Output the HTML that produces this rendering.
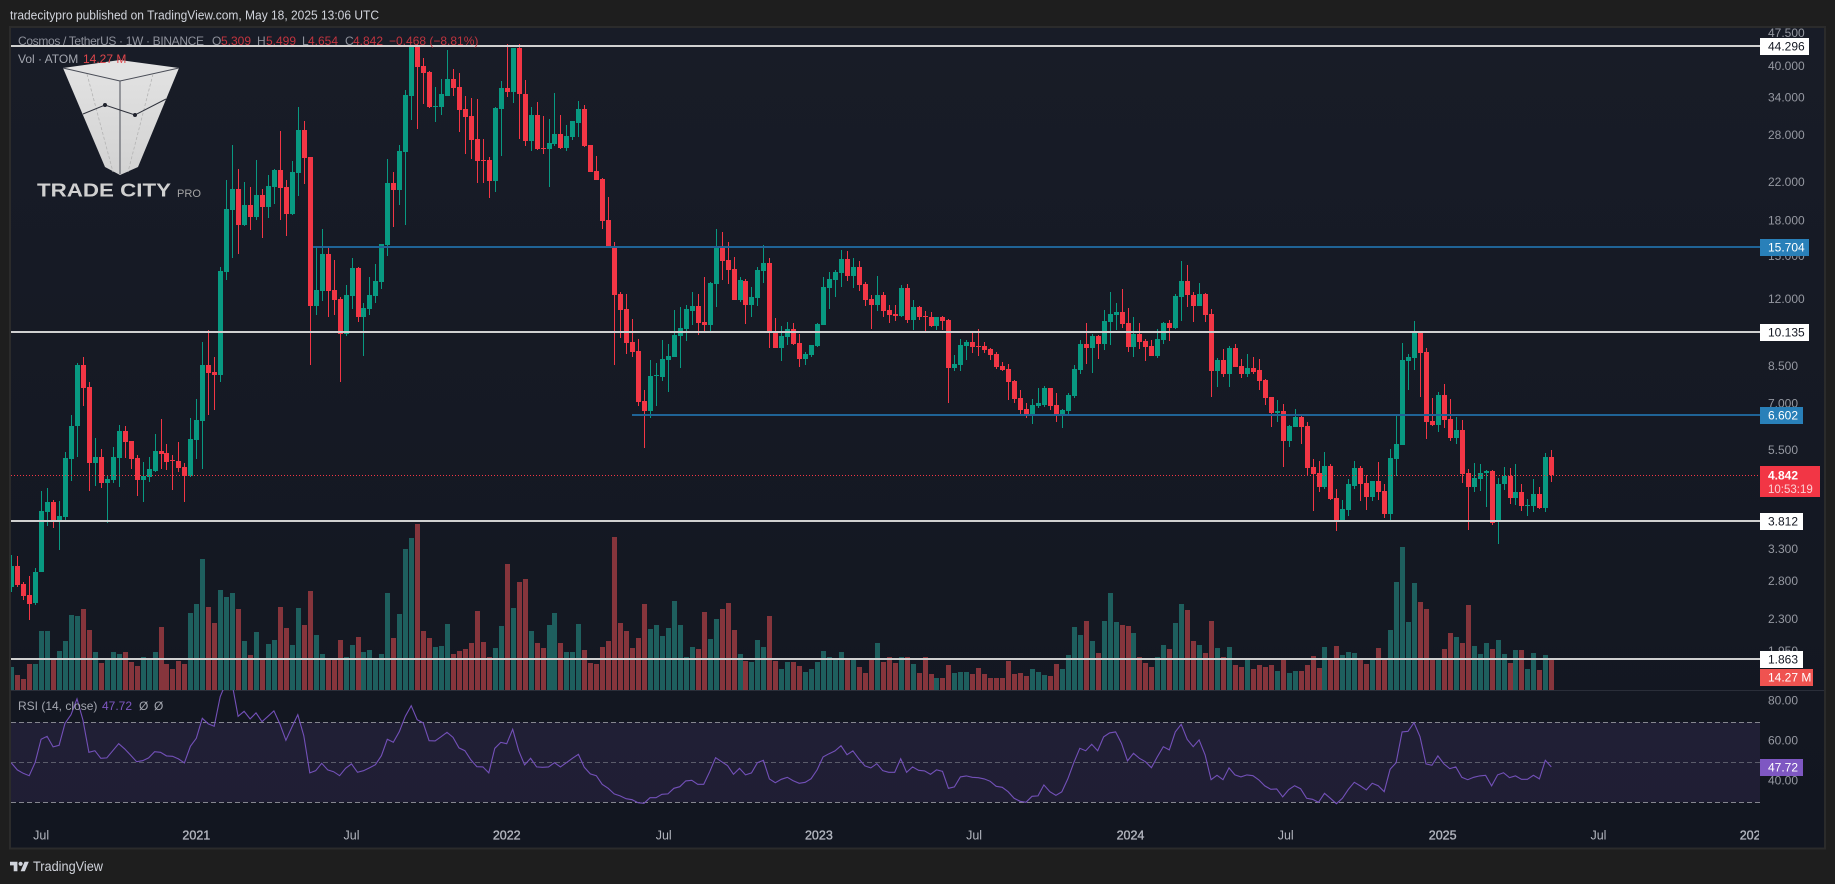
<!DOCTYPE html>
<html lang="en">
<head>
<meta charset="utf-8">
<title>Cosmos / TetherUS weekly chart</title>
<style>
html,body{margin:0;padding:0;background:#1e1e1e;width:1835px;height:884px;overflow:hidden}
svg{display:block;font-family:"Liberation Sans",sans-serif}
</style>
</head>
<body>
<svg id="chart" xmlns="http://www.w3.org/2000/svg" width="1835" height="884" viewBox="0 0 1835 884">
  <defs>
    <linearGradient id="paneBg" x1="0" y1="0" x2="0" y2="1"><stop offset="0" stop-color="#181c27"/><stop offset="1" stop-color="#121620"/></linearGradient>
    <linearGradient id="logoL" x1="0" y1="0" x2="0" y2="1"><stop offset="0" stop-color="#e2e2e2"/><stop offset="1" stop-color="#d2d2d2"/></linearGradient>
    <clipPath id="pricePane"><rect x="11" y="28" width="1749" height="662"/></clipPath>
    <clipPath id="rsiPane"><rect x="11" y="690" width="1749" height="157"/></clipPath>
    <clipPath id="timeClip"><rect x="11" y="820" width="1748" height="27"/></clipPath>
  </defs>

  <rect x="0" y="0" width="1835" height="884" fill="#1e1e1e"/>
  <text x="10" y="19.5" font-size="13" fill="#d1d4dc" textLength="369" lengthAdjust="spacingAndGlyphs">tradecitypro published on TradingView.com, May 18, 2025 13:06 UTC</text>
  <rect x="10" y="27" width="1815" height="821.5" fill="url(#paneBg)" stroke="#2b2b2b" stroke-width="2"/>
  <rect x="11" y="690" width="1813" height="1" fill="#2a2e39"/>

  <g id="volumeLayer" clip-path="url(#pricePane)" shape-rendering="crispEdges"></g>
  <g id="candleLayer" clip-path="url(#pricePane)" shape-rendering="crispEdges"></g>

  <g>
    <polygon points="63,68 120,60 179,68 120,81" fill="#e2e2e2"/>
    <polygon points="63,68 120,81 120,175 105,167 63,68" fill="url(#logoL)"/>
    <polygon points="179,68 120,81 120,175 138,167 179,68" fill="url(#logoL)"/>
    <path d="M63,68L120,81L179,68M120,81V174" fill="none" stroke="#4a4d57" stroke-width="1"/>
    <path d="M87,74L113,172M153,74L128,172" fill="none" stroke="#b4b4b4" stroke-width="0.8" stroke-dasharray="3 2"/>
    <path d="M83,114L105,105L135,115L166,99" fill="none" stroke="#2f323c" stroke-width="1"/>
    <circle cx="105" cy="105" r="2" fill="#20232d"/>
    <circle cx="135" cy="115" r="2" fill="#20232d"/>
    <text x="37" y="196.5" font-size="18.5" font-weight="bold" fill="#d0d0d0" textLength="134" lengthAdjust="spacingAndGlyphs">TRADE CITY</text>
    <text x="177" y="197" font-size="11" fill="#a4a4a4" textLength="24" lengthAdjust="spacingAndGlyphs">PRO</text>
  </g>

  <g id="levelLayer" shape-rendering="crispEdges"></g>
  <g id="rsiLayer"></g>
  <g id="timeAxis" clip-path="url(#timeClip)"></g>
  <g id="priceAxis"></g>
  <g id="axisLabels"></g>

  <g font-size="12">
    <text x="18" y="45" fill="#8f929c" textLength="186" lengthAdjust="spacing">Cosmos / TetherUS · 1W · BINANCE</text>
    <text x="212" y="45" fill="#8f929c">O</text>
    <text x="221" y="45" fill="#c2343f">5.309</text>
    <text x="257" y="45" fill="#8f929c">H</text>
    <text x="266" y="45" fill="#c2343f">5.499</text>
    <text x="302" y="45" fill="#8f929c">L</text>
    <text x="308" y="45" fill="#c2343f">4.654</text>
    <text x="345" y="45" fill="#8f929c">C</text>
    <text x="353" y="45" fill="#c2343f">4.842</text>
    <text x="389" y="45" fill="#c2343f">−0.468 (−8.81%)</text>
    <text x="18" y="63" fill="#a3a6af">Vol · ATOM</text>
    <text x="83" y="63" fill="#e0474c">14.27 M</text>
    <text x="18" y="710" fill="#a3a6af">RSI (14, close)</text>
    <text x="102" y="710" fill="#7e57c2">47.72</text>
    <text x="139" y="710" fill="#a3a6af">Ø</text>
    <text x="154" y="710" fill="#a3a6af">Ø</text>
  </g>

  <g>
    <path transform="translate(10,859.6) scale(0.53)" d="M14 22H7V11H0V4h14v18zM28 22h-8l7.5-18h8L28 22z" fill="#d1d4dc"/>
    <circle cx="20.6" cy="863.8" r="2.1" fill="#d1d4dc"/>
    <text x="33" y="871" font-size="13.5" fill="#d1d4dc" textLength="70" lengthAdjust="spacingAndGlyphs">TradingView</text>
  </g>
</svg>

<script>
const opens=[2.71,3.02,2.75,2.60,2.49,2.92,3.99,4.21,3.79,3.89,
5.25,6.23,8.52,7.61,5.14,5.30,4.64,4.71,5.27,6.06,
5.76,5.27,4.71,4.79,4.94,5.47,5.42,5.22,5.19,5.04,
4.81,5.79,6.39,8.52,8.22,8.10,13.79,18.99,21.17,17.57,
19.49,18.31,20.53,19.30,21.39,23.35,21.39,18.6,22.99,28.71,
24.97,11.57,12.5,15.13,12.56,11.99,10.0,12.2,14.07,10.93,
11.39,12.2,13.1,15.85,21.84,21.06,25.6,34.2,44.3,39.95,
38.74,32.33,32.33,34.22,37.35,35.85,32.0,30.86,27.4,24.59,
24.59,22.05,32.0,35.66,34.9,43.85,34.55,27.1,31.0,26.17,
26.0,26.7,28.1,26.17,27.7,29.77,32.0,26.57,23.23,22.3,
18.03,15.7,12.31,11.39,9.6,9.17,7.08,6.73,8.06,8.02,
8.75,8.88,9.91,10.27,11.27,11.57,10.65,10.49,12.96,15.7,
14.67,14.0,11.93,13.16,11.63,12.05,13.86,14.45,10.16,9.3,
9.85,10.27,9.55,8.8,8.98,9.41,10.49,12.7,13.23,13.72,
14.75,13.51,14.15,12.96,12.0,11.63,12.25,11.33,11.1,11.0,
12.7,10.76,11.51,11.0,10.93,10.44,10.93,10.76,8.4,8.53,
9.41,9.6,9.41,9.41,9.26,9.03,8.49,8.35,7.85,7.2,
6.8,6.62,6.91,6.94,7.57,6.94,6.56,6.73,7.27,8.31,
9.5,9.3,9.91,9.5,10.65,11.05,11.22,10.6,9.36,10.0,
9.65,9.41,8.94,9.7,10.6,10.33,12.1,13.16,12.25,11.57,
12.31,11.1,8.27,8.75,8.14,9.3,8.49,8.14,8.4,8.31,
7.89,7.23,6.66,6.73,5.76,6.2,6.52,6.23,5.04,4.89,
4.55,5.07,4.29,3.79,4.03,4.57,5.01,4.64,4.32,4.69,
4.45,3.95,5.25,5.64,8.7,8.84,10.1,9.12,6.39,6.26,
7.31,6.45,5.85,6.09,4.89,4.55,4.73,4.89,4.94,3.79,
4.6,4.81,4.29,4.43,4.12,4.12,4.38,4.07,5.309];

const highs=[3.20,3.18,2.78,2.87,2.99,4.45,4.52,4.25,4.23,5.44,
6.59,8.61,8.88,7.81,5.85,5.53,4.81,5.58,6.26,6.23,
5.76,5.36,5.17,5.30,5.97,6.45,5.67,5.36,5.73,5.14,
6.49,7.16,9.60,10.21,8.88,14.15,22.17,26.57,23.47,21.92,
21.39,24.59,21.17,22.75,23.47,28.56,22.17,24.46,32.33,30.0,
25.0,15.65,17.2,15.75,14.67,12.1,12.9,14.85,14.15,11.75,
13.44,14.37,15.93,24.72,23.11,26.57,35.3,44.3,44.75,41.6,
38.94,35.85,37.35,43.4,39.35,38.55,34.22,33.87,33.7,27.4,
25.0,32.33,37.0,44.75,43.85,44.75,37.17,32.33,33.2,30.86,
30.4,34.7,31.0,29.46,30.07,33.35,32.67,26.57,25.11,22.4,
20.3,16.1,12.44,12.31,10.82,9.75,7.49,8.75,8.61,9.7,
9.5,11.33,11.51,11.63,12.43,12.3,13.44,13.1,17.2,16.95,
16.1,14.93,13.44,13.3,12.76,14.15,15.85,14.85,10.87,10.44,
10.65,10.6,10.0,9.12,9.46,10.6,13.44,13.79,13.93,15.45,
15.37,14.85,14.6,13.1,12.25,13.51,12.43,11.63,11.63,12.9,
12.96,11.93,11.57,11.27,11.22,10.93,11.0,10.82,8.98,9.75,
9.7,10.1,10.27,9.6,9.3,9.12,8.66,8.57,7.89,7.49,
7.0,7.16,7.57,7.66,7.57,7.38,6.8,7.38,8.53,9.7,
10.6,10.0,9.96,11.33,12.43,11.75,12.63,11.45,10.93,10.6,
9.75,9.7,10.27,10.65,10.76,12.31,14.6,14.3,12.43,13.03,
12.37,11.39,8.84,9.26,9.41,9.5,8.8,9.03,8.88,8.8,
7.93,7.23,7.12,6.98,6.26,6.8,6.59,6.36,5.25,5.19,
5.44,5.12,4.5,4.25,4.73,5.19,5.07,4.83,4.69,5.17,
4.62,5.53,6.62,9.55,9.03,10.7,10.1,9.3,7.2,7.42,
7.72,7.16,6.52,6.42,4.99,5.14,5.1,4.96,4.96,4.76,
5.04,5.01,5.1,4.6,4.27,4.73,4.55,5.42,5.499];

const lows=[2.64,2.71,2.53,2.28,2.47,2.92,3.72,3.68,3.28,3.79,
4.69,5.31,6.91,4.45,4.57,4.52,3.77,4.64,4.55,5.27,
4.99,4.34,4.21,4.66,4.91,4.99,4.96,4.47,4.91,4.21,
4.79,5.25,4.99,6.59,6.76,7.81,13.23,14.85,15.13,17.49,
17.13,18.03,16.43,18.22,19.59,18.03,16.6,18.5,20.43,21.7,
8.53,11.05,11.87,10.93,11.05,7.81,9.9,11.39,10.65,8.94,
11.05,11.75,12.63,14.99,17.4,19.49,17.57,30.23,28.86,32.87,
32.17,29.92,31.0,34.22,34.22,28.41,25.4,24.72,21.84,21.84,
20.2,20.84,25.11,34.0,33.0,27.4,26.44,25.76,25.89,25.4,
21.39,26.44,26.0,25.76,27.26,27.7,26.3,23.11,22.17,17.2,
15.6,8.53,9.8,9.03,8.88,6.91,5.56,6.49,6.91,7.85,
7.42,8.88,8.4,9.65,10.5,9.96,10.05,10.16,11.51,13.23,
12.96,11.93,11.8,10.54,10.93,11.57,13.03,9.3,9.3,8.7,
9.46,9.46,8.44,8.53,8.88,9.36,10.49,11.39,12.1,12.76,
13.16,12.7,12.5,11.57,10.27,11.27,10.93,10.6,10.7,10.93,
10.6,10.21,10.76,10.16,10.38,10.21,10.21,7.0,8.27,8.27,
8.75,9.07,8.94,9.07,8.75,8.35,8.27,7.12,7.0,6.62,
6.49,6.29,6.84,6.87,6.76,6.36,6.15,6.62,7.2,8.14,
8.57,8.18,8.8,9.21,9.46,10.21,10.33,9.12,8.88,9.26,
8.7,8.94,8.84,9.5,9.65,10.27,10.7,11.51,10.65,11.57,
10.65,7.23,7.61,8.02,7.61,8.44,7.98,8.02,8.14,7.49,
6.94,6.19,6.36,5.04,5.59,6.2,5.67,4.81,4.01,4.43,
4.5,4.25,3.62,3.79,3.91,4.5,4.23,4.03,4.23,4.25,
3.87,3.83,4.81,5.64,7.49,8.31,7.23,5.82,6.23,6.03,
6.15,5.76,5.67,4.64,3.64,4.43,4.45,4.09,3.73,3.38,
4.47,4.16,4.14,4.01,3.91,3.99,4.05,3.99,4.654];

const closes=[3.02,2.74,2.59,2.48,2.93,4.01,4.21,3.79,3.91,5.27,
6.23,8.52,7.57,5.14,5.30,4.64,4.73,5.30,6.06,5.73,
5.25,4.71,4.81,4.99,5.47,5.39,5.17,5.19,5.01,4.81,
5.82,6.42,8.52,8.18,8.10,13.86,19.09,21.17,17.57,19.49,
18.31,20.53,19.30,21.50,23.35,21.28,18.6,23.11,28.71,24.84,
11.57,12.56,15.13,12.5,11.93,10.0,12.25,14.07,10.93,11.45,
12.25,13.16,15.93,21.84,21.06,25.76,34.4,44.3,39.74,38.55,
32.33,32.5,34.5,37.35,35.66,31.83,30.7,27.26,24.46,24.46,
22.05,32.17,35.66,34.9,43.85,34.55,27.1,31.0,26.0,26.0,
26.85,28.1,26.17,27.84,30.07,32.0,26.44,23.11,22.17,17.94,
15.6,12.25,11.33,9.55,9.12,7.05,6.73,8.06,8.1,8.79,
8.94,9.96,10.33,11.39,11.57,10.6,10.49,13.03,15.7,14.6,
13.93,11.93,13.23,11.63,12.1,13.93,14.45,10.1,9.3,9.91,
10.27,9.5,8.8,9.03,9.46,10.54,12.76,13.3,13.79,14.75,
13.51,14.15,12.9,11.93,11.63,12.25,11.27,11.05,11.0,12.7,
10.76,11.51,10.93,10.93,10.44,10.93,10.7,8.4,8.57,9.46,
9.6,9.36,9.36,9.21,8.98,8.44,8.31,7.81,7.16,6.76,
6.62,6.94,7.0,7.57,6.91,6.56,6.76,7.31,8.35,9.5,
9.3,9.91,9.5,10.7,11.1,11.22,10.54,9.36,10.0,9.6,
9.36,8.94,9.75,10.6,10.33,12.19,13.16,12.25,11.57,12.31,
11.05,8.27,8.75,8.14,9.3,8.44,8.14,8.4,8.22,7.85,
7.2,6.66,6.73,5.76,6.23,6.52,6.2,5.01,4.86,4.55,
5.07,4.27,3.79,4.05,4.6,5.01,4.62,4.32,4.69,4.43,
3.95,5.27,5.67,8.75,8.88,10.1,9.07,6.36,6.26,7.31,
6.42,5.85,6.09,4.86,4.55,4.76,4.89,4.94,3.77,4.62,
4.81,4.29,4.43,4.12,4.14,4.38,4.07,5.3,4.842];

const volumes=[10.9,7.1,5.2,12.4,12.4,28.1,28.1,14.3,18.6,23.3,
35.7,35.2,38.5,28.5,18.1,12.8,14.3,18.1,17.1,18.1,
13.3,11.4,15.7,14.3,18.1,30.0,12.4,10.0,13.8,12.4,
36.6,40.9,62.3,39.5,31.9,47.6,44.2,46.2,38.5,23.3,
16.7,27.6,14.3,21.9,23.8,39.5,29.5,21.4,39.0,30.9,
47.1,26.2,17.1,15.2,14.3,23.8,15.7,21.4,25.2,18.1,
19.0,14.3,17.1,46.2,24.7,36.2,67.1,72.3,79.0,28.1,
24.7,20.5,20.9,31.4,17.1,18.6,19.5,22.4,37.6,22.8,
15.7,20.0,30.5,60.0,39.0,51.4,52.8,28.1,22.4,20.0,
30.9,36.6,22.4,18.1,18.1,31.4,19.0,12.8,12.4,20.5,
23.3,73,31.9,28.1,20.0,24.7,40.9,29.0,30.9,25.7,
29.5,42.3,30.9,15.7,20.5,19.5,37.1,24.3,33.8,38.5,
41.4,28.5,17.1,13.8,13.3,23.8,20.5,35.2,13.8,10.0,
13.3,13.3,11.4,8.6,10.0,13.3,18.6,15.7,14.3,18.1,
14.3,14.3,10.9,8.1,15.2,22.4,13.3,15.7,12.8,15.7,
15.7,12.4,8.1,15.7,7.6,5.7,5.7,11.9,8.1,8.6,
8.6,7.6,10.5,7.6,5.7,5.7,5.7,13.8,7.6,8.1,
6.7,10.0,8.6,7.1,6.7,12.4,10.0,16.7,30.0,26.2,
32.8,23.3,17.6,32.8,46.2,32.4,30.9,30.5,27.1,15.7,
12.8,10.9,15.7,21.4,19.5,31.9,40.9,38.1,23.3,21.4,
17.6,32.8,20.0,15.7,20.5,11.9,10.9,14.3,10.0,11.9,
10.9,11.9,9.0,14.3,8.1,9.0,9.0,11.9,16.2,10.5,
20.5,14.3,20.9,16.7,18.1,17.6,15.2,12.4,14.3,20.0,
14.3,28.5,51.4,68.0,32.4,50.9,41.9,38.5,14.3,15.2,
19.5,27.1,25.2,22.4,40.4,20.9,17.1,22.4,19.5,23.8,
17.1,12.8,19.0,19.0,10.0,17.6,9.5,16.7,14.27];

const rsiValues=[49.7,46.2,44.5,43.3,50,61.5,63,57.7,58.5,69.5,
73.8,81.7,71.2,55,55.8,52,52.2,55.8,59.3,56.7,
53.5,50.3,50.8,52.2,55.3,55,53.2,53,51.7,49.7,
58,62,72,69.2,68,82.8,90,89,73,75.5,
71.7,74.7,70.3,73,75.7,69.2,61,67.5,73.8,63.3,
44.7,45.8,49.5,46.2,45.3,43.3,47,49.2,45,45.8,
47.2,48.8,53.3,61.5,60,65.3,73,78.3,71.3,69.7,
60.8,60.7,62.8,65,62.5,57.2,55.8,51.2,47.8,47.7,
44.7,57,60,59.3,66.5,55.8,48.7,52,47.7,47.5,
47.7,49.8,47.7,49.8,52,54,47.5,44.2,43.3,39,
37,34.2,33.2,31.8,31.3,29.8,29.5,32.3,32.3,34,
34.2,37,37.8,40.7,41,39,39,45.3,52.3,50.3,
48.3,44,47,43.7,44.7,49.8,51,41.7,39.8,41.5,
42.5,40.8,39.5,40,41.8,46.2,52.7,54.3,55.7,58.3,
53.8,55.7,51.7,48.2,47.2,49.3,45.8,45,45,51.8,
45,47.7,46,45.7,44,46.2,45.5,37,37.7,42.7,
43.2,42.5,42.3,41.7,40.5,38,37.5,35.3,32,30.5,
30,33,33.2,38.7,35.3,33.5,35.2,41.7,49.8,57,
55.8,59,55.8,62.7,64.7,65.2,59.5,50.7,54.5,52,
50.3,47.3,52.7,57.8,56.2,65.2,69,61.5,57.8,61.2,
53.7,41.3,43.5,41.3,47.2,43.7,42.7,43.7,43.3,41.2,
38.2,36.5,36.7,32.7,36.3,38.3,36.8,32,31.5,30,
34.5,32,29.3,32,36.5,40,38.2,36.2,39.5,38.3,
35.3,46.5,49.8,65.2,65.5,69.8,62.8,49.2,48.5,53.2,
49.2,46.8,47.7,42.5,41.3,42.5,43.2,43.5,38.2,43.7,
44.8,42.3,43.2,41.5,41.5,43.5,41.7,51,47.72];

const priceTickLabels=["47.500","40.000","34.000","28.000","22.000","18.000","15.000","12.000","10.000","8.500","7.000","5.500","4.500","3.800","3.300","2.800","2.300","1.950"];
const rsiTickLabels=["80.00","60.00","40.00"];
const rsiBandLevels=[70,50,30];
const timeTickLabels=["Jul","2021","Jul","2022","Jul","2023","Jul","2024","Jul","2025","Jul","2026"];
const timeTickBars=[5,31,57,83,109.3,135.3,161.3,187.5,213.5,239.8,265.9,291.9];
const levelPrices=[44.296,15.704,10.135,6.602,3.812,1.863];
const levelStartBars=[-2,50.5,-2,104,-2,-2];
const levelKinds=["white","blue","white","blue","white","white"];
const lastPrice=4.842;
const lastVolumeText="14.27 M";
const countdownText="10:53:19";
const lastRsi=47.72;

const NS='http://www.w3.org/2000/svg';
const X0=11.3,BAR=5.969,PRICE_REF=44.296,PRICE_Y=46,PRICE_K=193.6;
const VOL_BASE=690,VOL_PER_PX=0.476,RSI_50=762.3,RSI_PX=2;
function xBar(i){return X0+BAR*i;}
function yPrice(p){return PRICE_Y+PRICE_K*Math.log(PRICE_REF/p);}
function yVolume(v){return VOL_BASE-v/VOL_PER_PX;}
function yRsi(r){return RSI_50+(50-r)*RSI_PX;}
function mk(tag,parent,attrs){
  const el=document.createElementNS(NS,tag);
  for(const k in attrs){el.setAttribute(k,attrs[k]);}
  parent.appendChild(el);
  return el;
}
const GREEN='#089981',RED='#f23645',VGREEN='#1e5f5e',VRED='#86353c';

const volumeLayer=document.getElementById('volumeLayer');
volumes.forEach(function(v,i){
  const cx=Math.round(xBar(i));
  const top=Math.round(yVolume(v));
  const el=mk('rect',volumeLayer,{x:cx-2,y:top,width:5,height:VOL_BASE-top,fill:closes[i]>=opens[i]?VGREEN:VRED});
  
  
});

const candleLayer=document.getElementById('candleLayer');
opens.forEach(function(o,i){
  const c=closes[i];
  const col=c>=o?GREEN:RED;
  const cx=Math.round(xBar(i));
  const hi=Math.round(yPrice(highs[i]));
  const lo=Math.round(yPrice(lows[i]));
  const wick=mk('rect',candleLayer,{x:cx,y:hi,width:1,height:Math.max(1,lo-hi),fill:col});
  
  
  const t=Math.round(yPrice(Math.max(o,c)));
  const b=Math.round(yPrice(Math.min(o,c)));
  const body=mk('rect',candleLayer,{x:cx-2,y:t,width:5,height:Math.max(1,b-t),fill:col});
  
  
});

const levelLayer=document.getElementById('levelLayer');
levelPrices.forEach(function(p,i){
  const y=Math.round(yPrice(p));
  const x1=Math.max(11,Math.round(xBar(levelStartBars[i])));
  const line=mk('rect',levelLayer,{x:x1,y:y-1,width:1760-x1,height:2,fill:levelKinds[i]==='blue'?'#1f6396':'#d0d0d0'});
  
  
});
const lastLine=mk('line',levelLayer,{x1:11,x2:1758,y1:Math.round(yPrice(lastPrice))+0.5,y2:Math.round(yPrice(lastPrice))+0.5,stroke:RED,'stroke-width':1,'stroke-dasharray':'1 2'});



const rsiLayer=document.getElementById('rsiLayer');
const band=mk('rect',rsiLayer,{x:11,y:yRsi(rsiBandLevels[0]),width:1749,height:yRsi(rsiBandLevels[2])-yRsi(rsiBandLevels[0]),fill:'#7e57c2','fill-opacity':0.13});


rsiBandLevels.forEach(function(l,i){
  const y=Math.round(yRsi(l))+0.5;
  const d=mk('line',rsiLayer,{x1:11,x2:1760,y1:y,y2:y,stroke:i===1?'#5b5c6b':'#85868f','stroke-width':1,'stroke-dasharray':'5 3'});
  
  
});
const rsiPoints=rsiValues.map(function(r,i){return xBar(i).toFixed(1)+','+yRsi(r).toFixed(1);}).join(' ');
const rsiLine=mk('polyline',rsiLayer,{points:rsiPoints,fill:'none',stroke:'#7350b8','stroke-width':1.1,'clip-path':'url(#rsiPane)'});



const timeAxis=document.getElementById('timeAxis');
timeTickLabels.forEach(function(t,i){
  const isYear=t.length===4;
  const el=mk('text',timeAxis,{x:xBar(timeTickBars[i]),y:839.5,'text-anchor':'middle','font-size':12.5,fill:'#b2b5be',stroke:isYear?'#b2b5be':'none','stroke-width':isYear?0.35:0});
  el.textContent=t;
  
  
});

const priceAxis=document.getElementById('priceAxis');
priceTickLabels.forEach(function(t){
  const el=mk('text',priceAxis,{x:1768,y:yPrice(parseFloat(t))+4.3,'font-size':12,fill:'#9598a1'});
  el.textContent=t;
  
  
});
rsiTickLabels.forEach(function(t){
  const el=mk('text',priceAxis,{x:1768,y:yRsi(parseFloat(t))+2.3,'font-size':12,fill:'#9598a1'});
  el.textContent=t;
  
  
});

const axisLabels=document.getElementById('axisLabels');
levelPrices.forEach(function(p,i){
  const y=Math.round(yPrice(p));
  const txt=p.toFixed(3);
  const blue=levelKinds[i]==='blue';
  const box=mk('rect',axisLabels,{x:1760,y:y-8,width:txt.length>=6?49:43,height:17,fill:blue?'#2980b9':'#ffffff'});
  
  
  const tx=mk('text',axisLabels,{x:1768,y:y+4.5,'font-size':12,fill:blue?'#ffffff':'#131722'});
  tx.textContent=txt;
  
  
});

const lastY=Math.round(yPrice(lastPrice));
const lastBox=mk('rect',axisLabels,{x:1760,y:lastY-9,width:60,height:31,fill:RED});


const lastTxt=mk('text',axisLabels,{x:1768,y:lastY+4.5,'font-size':12,'font-weight':'bold',fill:'#ffffff'});
lastTxt.textContent=lastPrice.toFixed(3);


const cdTxt=mk('text',axisLabels,{x:1768,y:lastY+18,'font-size':11.5,fill:'#fbd0d4'});
cdTxt.textContent=countdownText;



const volBox=mk('rect',axisLabels,{x:1760,y:669,width:53,height:17,fill:'#ef5350'});


const volTxt=mk('text',axisLabels,{x:1768,y:681.5,'font-size':12,fill:'#ffffff'});
volTxt.textContent=lastVolumeText;



const rsiY=Math.round(yRsi(lastRsi));
const rsiBox=mk('rect',axisLabels,{x:1760,y:rsiY-8,width:43,height:17,fill:'#7e57c2'});


const rsiTxt=mk('text',axisLabels,{x:1768,y:rsiY+4.5,'font-size':12,fill:'#ffffff'});
rsiTxt.textContent=lastRsi.toFixed(2);


</script>
</body>
</html>
